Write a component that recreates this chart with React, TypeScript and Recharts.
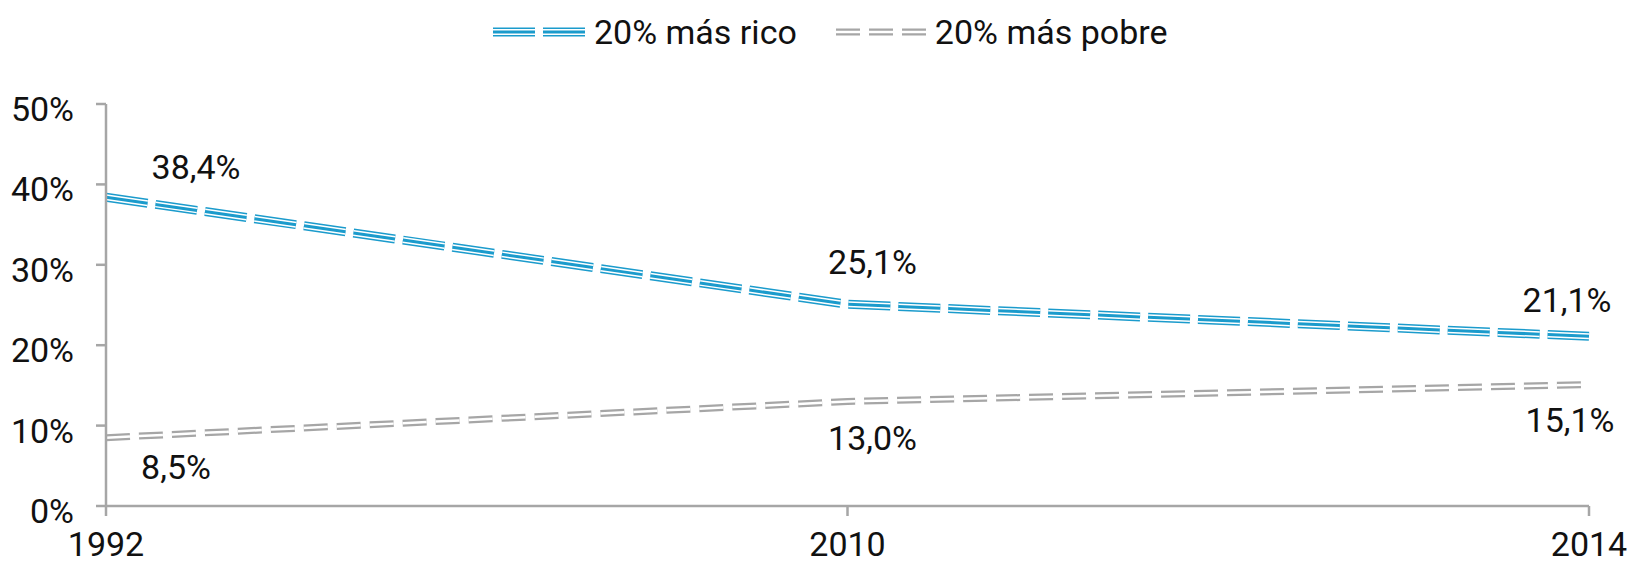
import React from "react";
import { LineChart, Line, XAxis, YAxis, LabelList } from "recharts";

const years = ["1992", "2010", "2014"];
const richest = [38.4, 25.1, 21.1];
const poorest = [8.5, 13.0, 15.1];
const yTicks = [0, 10, 20, 30, 40, 50];

const BLUE = "#1b9bcc";
const GREY = "#a6a6a6";
const FONT = "Roboto, 'Noto Sans', sans-serif";
const FS = 34;

const data = years.map((year, i) => ({ year, rico: richest[i], pobre: poorest[i] }));

const fmt = (v: number) => v.toFixed(1).replace(".", ",") + "%";

// label offsets, per point, like the Excel original
const ricoOffsets = [
  { dx: 90, dy: -30 },
  { dx: 25, dy: -42 },
  { dx: -22, dy: -36 },
];
const pobreOffsets = [
  { dx: 70, dy: 29 },
  { dx: 25, dy: 37 },
  { dx: -19, dy: 35 },
];

function makeLabel(offsets: { dx: number; dy: number }[]) {
  return (props: any) => {
    const { x, y, value, index } = props;
    const o = offsets[index] || { dx: 0, dy: 0 };
    return (
      <text
        x={x + o.dx}
        y={y + o.dy}
        textAnchor="middle"
        dominantBaseline="central"
        fontFamily={FONT}
        fontSize={FS}
        fill="#111"
      >
        {fmt(value)}
      </text>
    );
  };
}

function LegendBox() {
  return (
    <div
      style={{
        position: "absolute",
        top: 12,
        left: 490,
        display: "flex",
        alignItems: "center",
        fontFamily: FONT,
        fontSize: FS,
        lineHeight: "40px",
        color: "#111",
        whiteSpace: "nowrap",
      }}
    >
      <svg width={96} height={20} style={{ marginRight: 8 }}>
        <line x1={3} x2={95} y1={10} y2={10} stroke={BLUE} strokeWidth={9} strokeDasharray="42 8" />
        <line x1={3} x2={95} y1={10} y2={10} stroke="#fff" strokeWidth={6} strokeDasharray="42 8" />
        <line x1={3} x2={95} y1={10} y2={10} stroke={BLUE} strokeWidth={3} strokeDasharray="42 8" />
      </svg>
      <span>20% más rico</span>
      <svg width={96} height={20} style={{ marginLeft: 34, marginRight: 8 }}>
        <line x1={5} x2={95} y1={10} y2={10} stroke={GREY} strokeWidth={7} strokeDasharray="24 9" />
        <line x1={5} x2={95} y1={10} y2={10} stroke="#fff" strokeWidth={2.5} strokeDasharray="24 9" />
      </svg>
      <span>20% más pobre</span>
    </div>
  );
}

export default function App() {
  return (
    <div style={{ position: "absolute", left: 0, top: 0, width: 1629, height: 567, background: "#fff" }}>
      <LegendBox />
      <LineChart
        width={1629}
        height={567}
        data={data}
        margin={{ top: 104, right: 40, bottom: 0, left: 8 }}
      >
        <XAxis
          dataKey="year"
          height={61}
          axisLine={{ stroke: GREY, strokeWidth: 2.5 }}
          tickLine={{ stroke: GREY, strokeWidth: 2.5 }}
          tickSize={10}
          tickMargin={16}
          tick={{ fontFamily: FONT, fontSize: FS, fill: "#111" }}
        />
        <YAxis
          width={98}
          domain={[0, 50]}
          ticks={yTicks}
          tickFormatter={(v: number) => `${v}%`}
          axisLine={{ stroke: GREY, strokeWidth: 2.5 }}
          tickLine={{ stroke: GREY, strokeWidth: 2.5 }}
          tickSize={10}
          tickMargin={22}
          tick={{ fontFamily: FONT, fontSize: FS, fill: "#111", dy: 5 }}
        />
        <Line dataKey="rico" stroke={BLUE} strokeWidth={9} strokeDasharray="42 8" dot={false} isAnimationActive={false} />
        <Line dataKey="rico" stroke="#fff" strokeWidth={6} strokeDasharray="42 8" dot={false} isAnimationActive={false} />
        <Line dataKey="rico" stroke={BLUE} strokeWidth={3} strokeDasharray="42 8" dot={false} isAnimationActive={false}>
          <LabelList dataKey="rico" content={makeLabel(ricoOffsets)} />
        </Line>
        <Line dataKey="pobre" stroke={GREY} strokeWidth={7} strokeDasharray="24 9" dot={false} isAnimationActive={false} />
        <Line dataKey="pobre" stroke="#fff" strokeWidth={2.5} strokeDasharray="24 9" dot={false} isAnimationActive={false}>
          <LabelList dataKey="pobre" content={makeLabel(pobreOffsets)} />
        </Line>
      </LineChart>
    </div>
  );
}
